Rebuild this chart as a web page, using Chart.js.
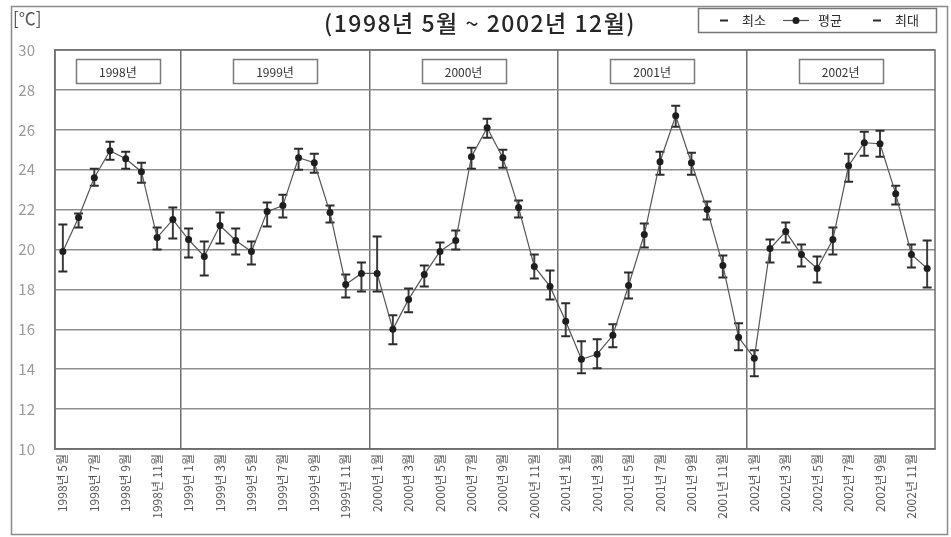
<!DOCTYPE html>
<html>
<head>
<meta charset="utf-8">
<title>월별 기온 (1998년 5월 ~ 2002년 12월)</title>
<script src="https://cdn.jsdelivr.net/npm/chart.js@4.4.1/dist/chart.umd.min.js"></script>
<style>
  html, body { margin: 0; padding: 0; background: #fff; }
  canvas { display: block; }
</style>
</head>
<body>
<canvas id="temp" width="951" height="537"></canvas>
<script>
// Monthly categories
const labels = [
  '1998년 5월','1998년 6월','1998년 7월','1998년 8월','1998년 9월','1998년 10월','1998년 11월','1998년 12월',
  '1999년 1월','1999년 2월','1999년 3월','1999년 4월','1999년 5월','1999년 6월','1999년 7월','1999년 8월','1999년 9월','1999년 10월','1999년 11월','1999년 12월',
  '2000년 1월','2000년 2월','2000년 3월','2000년 4월','2000년 5월','2000년 6월','2000년 7월','2000년 8월','2000년 9월','2000년 10월','2000년 11월','2000년 12월',
  '2001년 1월','2001년 2월','2001년 3월','2001년 4월','2001년 5월','2001년 6월','2001년 7월','2001년 8월','2001년 9월','2001년 10월','2001년 11월','2001년 12월',
  '2002년 1월','2002년 2월','2002년 3월','2002년 4월','2002년 5월','2002년 6월','2002년 7월','2002년 8월','2002년 9월','2002년 10월','2002년 11월','2002년 12월'
];

const yearNames = ['1998년', '1999년', '2000년', '2001년', '2002년'];

// Temperatures in ℃
const meanTemp = [
  19.9, 21.6, 23.6, 24.95, 24.55, 23.9, 20.6, 21.5,
  20.5, 19.65, 21.2, 20.45, 19.9, 21.9, 22.2, 24.6, 24.35, 21.85, 18.25, 18.8,
  18.8, 16.0, 17.5, 18.75, 19.9, 20.45, 24.65, 26.1, 24.6, 22.1, 19.15, 18.15,
  16.4, 14.5, 14.75, 15.7, 18.2, 20.75, 24.4, 26.7, 24.35, 22.0, 19.2, 15.6,
  14.55, 20.05, 20.9, 19.75, 19.05, 20.5, 24.2, 25.35, 25.3, 22.8, 19.75, 19.05
];
const minTemp = [
  18.9, 21.1, 23.2, 24.5, 24.05, 23.35, 20.0, 20.55,
  19.6, 18.7, 20.3, 19.75, 19.25, 21.15, 21.6, 24.0, 23.85, 21.35, 17.6, 17.9,
  17.9, 15.25, 16.85, 18.15, 19.25, 20.0, 24.05, 25.6, 24.1, 21.6, 18.55, 17.5,
  15.65, 13.8, 14.05, 15.1, 17.55, 20.1, 23.75, 26.15, 23.75, 21.5, 18.6, 14.95,
  13.65, 19.35, 20.35, 19.15, 18.35, 19.75, 23.4, 24.7, 24.65, 22.25, 19.1, 18.1
];
const maxTemp = [
  21.25, 21.8, 24.05, 25.4, 24.9, 24.35, 21.1, 22.1,
  21.05, 20.4, 21.85, 21.05, 20.4, 22.35, 22.75, 25.05, 24.8, 22.2, 18.75, 19.35,
  20.65, 16.7, 18.05, 19.2, 20.35, 20.95, 25.1, 26.55, 25.0, 22.45, 19.75, 18.95,
  17.3, 15.4, 15.5, 16.25, 18.85, 21.3, 24.9, 27.2, 24.85, 22.4, 19.7, 16.3,
  14.95, 20.5, 21.35, 20.25, 19.65, 21.1, 24.8, 25.9, 25.95, 23.2, 20.25, 20.45
];

const yTicks = { min: 10, max: 30, step: 2 };

const FONT = "'Noto Sans CJK KR', 'Noto Sans', sans-serif";
Chart.defaults.font.family = FONT;

// index of the first month of every year, used for the dividers and year boxes
const yearStart = yearNames.map(y => labels.findIndex(l => l.startsWith(y)));
const dividers = yearStart.slice(1);

const INK = '#2b2b2b';

const decor = {
  id: 'decor',
  beforeDraw(chart) {
    const { ctx, width, height } = chart;
    ctx.save();
    ctx.fillStyle = '#fff';
    ctx.fillRect(0, 0, width, height);
    ctx.strokeStyle = '#8a8a8a';
    ctx.lineWidth = 1.5;
    ctx.strokeRect(11.5, 6.5, 936, 528);
    ctx.restore();
  },
  afterDraw(chart) {
    const { ctx, chartArea: a, scales: { x, y } } = chart;
    ctx.save();

    // plot frame
    ctx.strokeStyle = '#6e6e6e';
    ctx.lineWidth = 1.5;
    ctx.strokeRect(a.left, a.top, a.right - a.left, a.bottom - a.top);

    // unit
    ctx.fillStyle = '#555';
    ctx.font = '17px ' + FONT;
    ctx.textAlign = 'left';
    ctx.textBaseline = 'middle';
    ctx.fillText('[℃]', 13, 19);

    // title
    ctx.fillStyle = '#262626';
    ctx.font = '500 23px ' + FONT;
    ctx.textAlign = 'center';
    ctx.letterSpacing = '1.5px';
    ctx.fillText('(1998년 5월 ~ 2002년 12월)', 480, 23);
    ctx.letterSpacing = '0px';

    // year boxes
    yearNames.forEach((name, k) => {
      const i0 = yearStart[k];
      const i1 = (k + 1 < yearStart.length ? yearStart[k + 1] : labels.length) - 1;
      const cx = (x.getPixelForValue(i0) + x.getPixelForValue(i1)) / 2;
      const cy = y.getPixelForValue(28.95);
      const w = 84, h = 24;
      ctx.fillStyle = '#fff';
      ctx.fillRect(cx - w / 2, cy - h / 2, w, h);
      ctx.strokeStyle = '#7a7a7a';
      ctx.lineWidth = 1.5;
      ctx.strokeRect(Math.round(cx - w / 2) + 0.5, Math.round(cy - h / 2) + 0.5, w, h);
      ctx.fillStyle = '#333';
      ctx.font = '12px ' + FONT;
      ctx.textAlign = 'center';
      ctx.textBaseline = 'middle';
      ctx.fillText(name, cx, cy + 1);
    });

    // legend
    const lx = 698.5, ly = 8.5, lw = 238, lh = 24, my = ly + lh / 2;
    ctx.fillStyle = '#fff';
    ctx.fillRect(lx, ly, lw, lh);
    ctx.strokeStyle = '#777';
    ctx.lineWidth = 1.5;
    ctx.strokeRect(lx, ly, lw, lh);
    const ds = chart.data.datasets;
    const items = [
      { d: ds[1], x: 720 },
      { d: ds[2], x: 783 },
      { d: ds[3], x: 873 }
    ];
    ctx.font = '13px ' + FONT;
    ctx.textAlign = 'left';
    items.forEach(({ d, x: ix }) => {
      ctx.strokeStyle = d.pointBorderColor;
      if (d.showLine === false) {
        ctx.lineWidth = 2;
        ctx.beginPath();
        ctx.moveTo(ix, my); ctx.lineTo(ix + 8, my);
        ctx.stroke();
        ctx.fillStyle = INK;
        ctx.fillText(d.label, ix + 22, my);
      } else {
        ctx.strokeStyle = d.borderColor;
        ctx.lineWidth = 1.2;
        ctx.beginPath();
        ctx.moveTo(ix, my); ctx.lineTo(ix + 26, my);
        ctx.stroke();
        ctx.fillStyle = d.pointBackgroundColor;
        ctx.beginPath();
        ctx.arc(ix + 13, my, 3.5, 0, Math.PI * 2);
        ctx.fill();
        ctx.fillStyle = INK;
        ctx.fillText(d.label, ix + 35, my);
      }
    });

    ctx.restore();
  }
};

new Chart(document.getElementById('temp'), {
  type: 'line',
  data: {
    labels,
    datasets: [
      {
        type: 'bar',
        label: '범위',
        data: labels.map((_, i) => [minTemp[i], maxTemp[i]]),
        backgroundColor: '#3a3a3a',
        borderWidth: 0,
        barThickness: 1.3,
        order: 4
      },
      {
        label: '최소',
        data: minTemp,
        showLine: false,
        pointStyle: 'line',
        pointRadius: 4.5,
        pointBorderWidth: 2,
        pointBorderColor: INK,
        pointBackgroundColor: INK,
        order: 3
      },
      {
        label: '평균',
        data: meanTemp,
        borderColor: '#555',
        borderWidth: 1.2,
        pointStyle: 'circle',
        pointRadius: 3.5,
        pointBorderWidth: 0,
        pointBackgroundColor: '#1e1e1e',
        pointBorderColor: '#1e1e1e',
        tension: 0,
        order: 1
      },
      {
        label: '최대',
        data: maxTemp,
        showLine: false,
        pointStyle: 'line',
        pointRadius: 4.5,
        pointBorderWidth: 2,
        pointBorderColor: INK,
        pointBackgroundColor: INK,
        order: 2
      }
    ]
  },
  options: {
    responsive: false,
    animation: false,
    events: [],
    layout: { padding: { left: 12, top: 50, right: 16, bottom: 0 } },
    plugins: {
      legend: { display: false },
      tooltip: { enabled: false },
      title: { display: false }
    },
    scales: {
      x: {
        offset: true,
        grid: {
          offset: true,
          drawTicks: false,
          lineWidth: 1.5,
          color: c => dividers.includes(c.index) ? '#6e6e6e' : 'rgba(0,0,0,0)'
        },
        border: { display: true, color: '#6e6e6e', width: 1.5 },
        ticks: {
          autoSkip: false,
          minRotation: 90,
          maxRotation: 90,
          padding: 5,
          color: '#555',
          font: { size: 12 },
          callback: (v, i) => (i % 2 === 0 ? labels[i] : '')
        },
        afterFit(s) { s.height = 88; }
      },
      y: {
        min: yTicks.min,
        max: yTicks.max,
        ticks: { stepSize: yTicks.step, padding: 20, color: '#9a9a9a', font: { size: 15 } },
        grid: { color: '#8f8f8f', lineWidth: 1.5, drawTicks: false },
        border: { color: '#6e6e6e', width: 1.5 },
        afterFit(s) { s.width = 43; }
      }
    }
  },
  plugins: [decor]
});
</script>
</body>
</html>
